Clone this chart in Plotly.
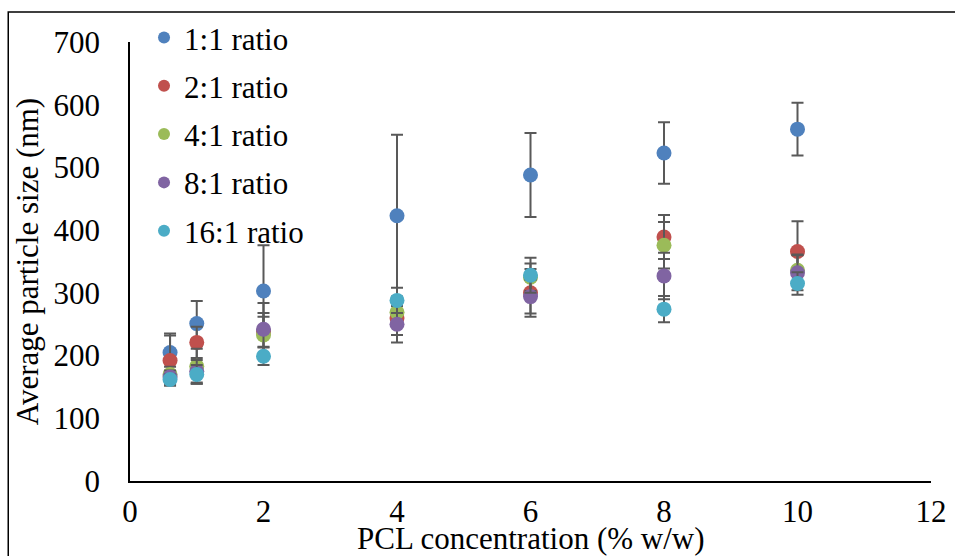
import plotly.graph_objects as go

# PCL concentration (% w/w)
concentration = [0.6, 1, 2, 4, 6, 8, 10]

# Average particle size (nm) and error for each drug:polymer ratio
size_1_1 = [205, 251, 303, 423, 488, 523, 561]
err_1_1 = [30, 36, 73, 129, 67, 49, 42]

size_2_1 = [192, 221, 238, 260, 300, 389, 366]
err_2_1 = [40, 25, 24, 27, 38, 35, 48]

size_4_1 = [170, 183, 233, 269, 325, 376, 336]
err_4_1 = [12, 28, 35, 20, 22, 37, 25]

size_8_1 = [166, 175, 242, 250, 294, 327, 332]
err_8_1 = [10, 18, 42, 29, 27, 37, 28]

size_16_1 = [162, 170, 199, 288, 328, 274, 315]
err_16_1 = [8, 15, 14, 20, 28, 21, 18]

series_names = ["1:1 ratio", "2:1 ratio", "4:1 ratio", "8:1 ratio", "16:1 ratio"]
series_sizes = [size_1_1, size_2_1, size_4_1, size_8_1, size_16_1]
series_errs = [err_1_1, err_2_1, err_4_1, err_8_1, err_16_1]
series_colors = ["#4F81BD", "#C0504D", "#9BBB59", "#8064A2", "#4BACC6"]

x_ticks = [0, 2, 4, 6, 8, 10, 12]
y_ticks = [0, 100, 200, 300, 400, 500, 600, 700]

FONT = "Liberation Serif"
FS = 31

fig = go.Figure()
for i, (name, ys, es, col) in enumerate(zip(series_names, series_sizes, series_errs, series_colors)):
    fig.add_trace(go.Scatter(
        x=concentration, y=ys, mode="markers", name=name,
        legendgroup=f"g{i}",
        marker=dict(size=15, color=col),
        error_y=dict(type="data", array=es, visible=True,
                     color="#595959", thickness=2, width=6),
    ))

fig.update_layout(
    width=955, height=556,
    paper_bgcolor="white", plot_bgcolor="white",
    margin=dict(l=130, r=24, t=42, b=75, autoexpand=False),
    font=dict(family=FONT, size=FS, color="black"),
    showlegend=True,
    legend=dict(
        x=0.0175, y=1.071, xanchor="left", yanchor="top",
        bgcolor="rgba(0,0,0,0)", tracegroupgap=5,
        font=dict(family=FONT, size=FS, color="black"),
        itemsizing="constant",
    ),
    xaxis=dict(
        range=[0, 12], tickvals=x_ticks, ticktext=[str(v) for v in x_ticks],
        showgrid=False, zeroline=False, automargin=False,
        showline=True, linecolor="black", linewidth=1.5,
        ticks="outside", ticklen=2, tickcolor="rgba(0,0,0,0)",
        tickfont=dict(family=FONT, size=FS),
    ),
    yaxis=dict(
        range=[0, 700], tickvals=y_ticks, ticktext=[str(v) for v in y_ticks],
        showgrid=False, zeroline=False, automargin=False,
        showline=True, linecolor="black", linewidth=1.5,
        ticks="outside", ticklen=22, tickcolor="rgba(0,0,0,0)",
        tickfont=dict(family=FONT, size=FS),
        title=dict(text="Average particle size (nm)", standoff=6,
                   font=dict(family=FONT, size=FS)),
    ),
)

# x-axis title, set just below the tick labels
fig.add_annotation(
    text="PCL concentration (% w/w)", xref="paper", yref="paper",
    x=0.5, y=-0.088, xanchor="center", yanchor="top", showarrow=False,
    font=dict(family=FONT, size=FS, color="black"), borderpad=0,
)

# Outer chart border (left and top edges visible)
fig.add_shape(type="rect", xref="paper", yref="paper",
              x0=-0.152, y0=-0.4, x1=1.2, y1=1.0685,
              line=dict(color="black", width=1.5), fillcolor="rgba(0,0,0,0)",
              layer="below")

fig.write_html("out.html")
